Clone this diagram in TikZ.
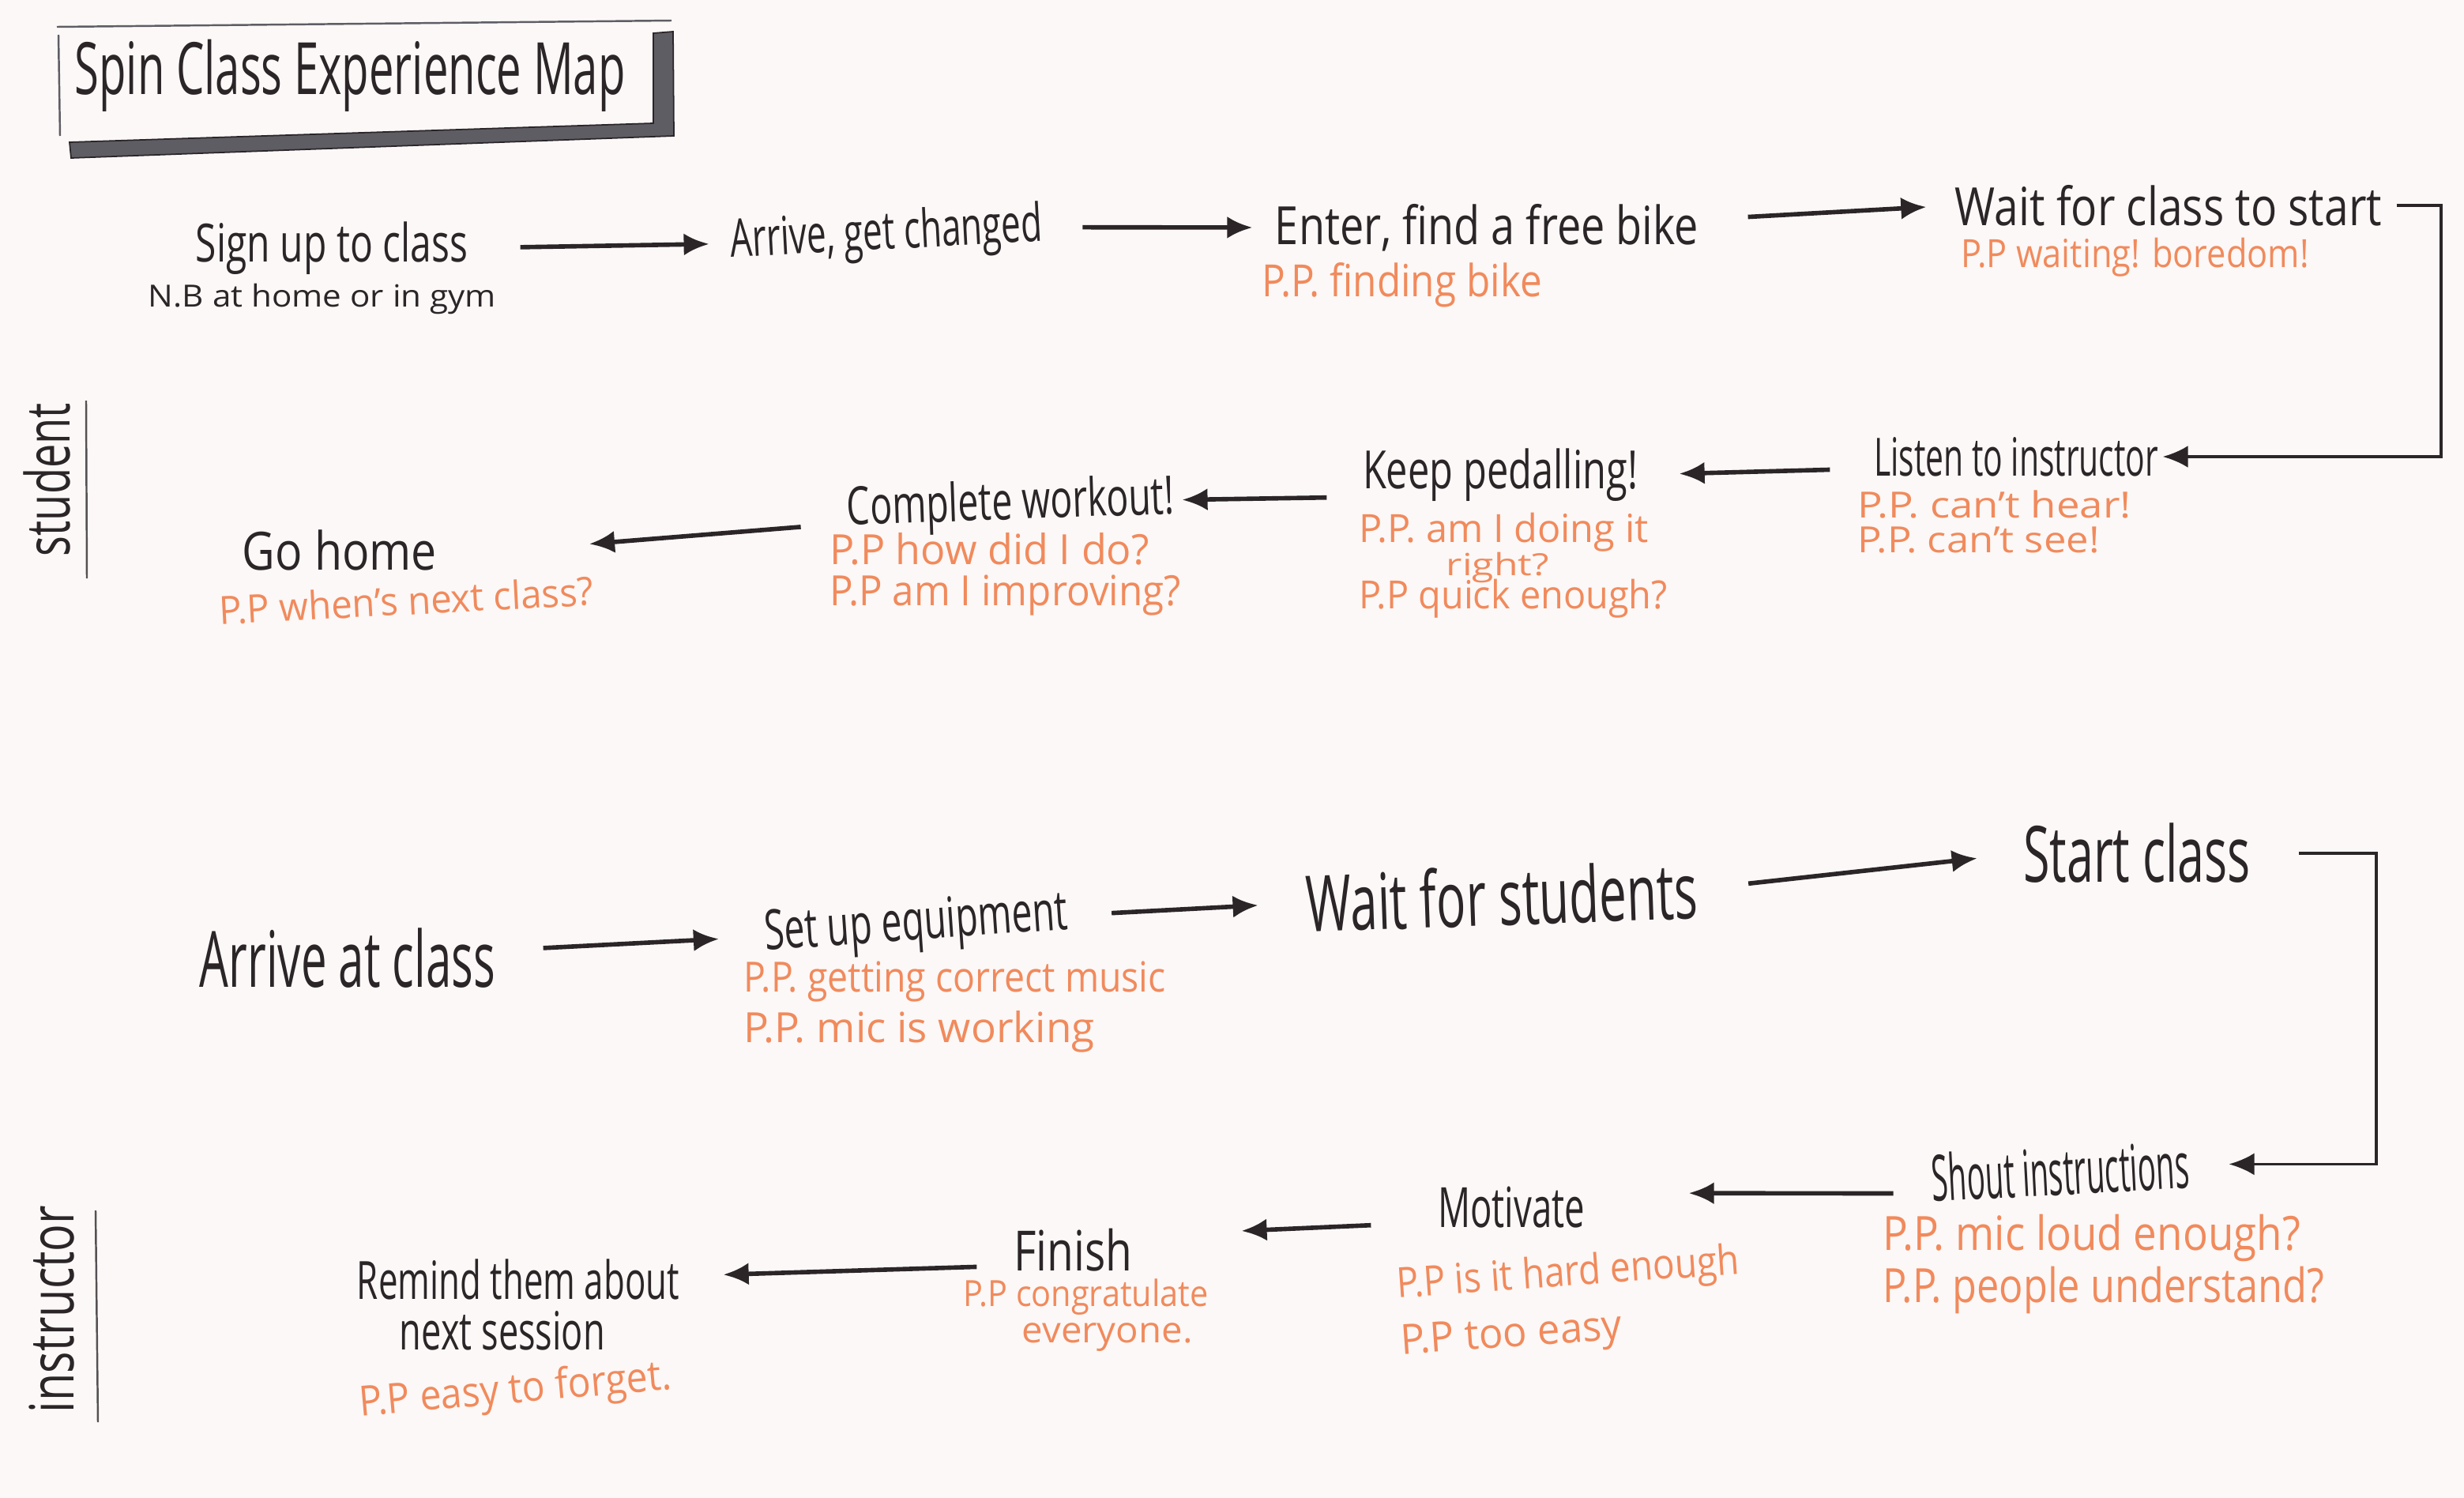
\documentclass[tikz,border=0pt]{standalone}
\usepackage{fontspec}
\setmainfont{Open Sans}
\usepackage{graphicx}
\usetikzlibrary{arrows.meta,calc}
\definecolor{ink}{HTML}{2B2528}
\definecolor{pp}{HTML}{F18A5C}
\definecolor{paper}{HTML}{FBF8F7}
\definecolor{shade}{HTML}{5F5D64}
\newcommand{\hw}[2]{\resizebox{#1cm}{\height}{#2}}
\AtBeginDocument{\lineskiplimit=-50pt\lineskip=0pt}
\begin{document}
\begin{tikzpicture}[
  lbl/.style={inner sep=0pt, text=ink, font=\fontsize{19}{21}\selectfont},
  biglbl/.style={lbl, font=\fontsize{28}{30}\selectfont},
  ppl/.style={inner sep=0pt, text=pp, font=\fontsize{15}{15}\selectfont, align=left, anchor=north west},
  arr/.style={draw=ink, line width=1.6pt, -{Latex[length=0.32cm,width=0.28cm]}},
  elbow/.style={arr, line width=1.1pt},
  rule/.style={draw=ink!80, line width=0.7pt},
]
\fill[paper] (0,0) rectangle (31.19,-18.96);
\useasboundingbox (0,0) rectangle (31.19,-18.96);

% title frame
\filldraw[fill=shade, draw=ink, line width=0.5pt] (8.27,-0.42) -- (8.52,-0.40) -- (8.53,-1.72) -- (0.90,-2.00) -- (0.88,-1.80) -- (8.27,-1.56) -- cycle;
\draw[rule, draw=shade] (0.72,-0.34) -- (8.50,-0.26);
\draw[rule, draw=shade] (0.74,-0.44) -- (0.76,-1.72);
\node[lbl, font=\fontsize{26}{28}\selectfont] (title) at (4.43,-0.96) {\hw{6.97}{Spin Class Experience Map}};

% ---------------- student ----------------
\node[lbl, rotate=90, font=\fontsize{22}{24}\selectfont] (student) at (0.60,-6.07) {\hw{1.94}{student}};
\draw[rule] (1.09,-5.07) -- (1.10,-7.32);

\node[lbl] (sign) at (4.20,-3.14) {\hw{3.44}{Sign up to class}};
\node[lbl, font=\fontsize{11}{12}\selectfont] (signnb) at (4.08,-3.78) {\hw{4.40}{N.B at home or in gym}};
\node[lbl, rotate=3] (arrive) at (11.22,-2.98) {\hw{3.96}{Arrive, get changed}};
\node[lbl] (enter) at (18.82,-2.88) {\hw{5.36}{Enter, find a free bike}};
\node[ppl, font=\fontsize{16}{16}\selectfont] (enterpp) at (15.97,-3.32) {\hw{3.54}{P.P. finding bike}};
\node[lbl] (wait) at (27.45,-2.60) {\hw{5.40}{Wait for class to start}};
\node[ppl, font=\fontsize{14}{14}\selectfont] (waitpp) at (24.82,-3.00) {\hw{4.40}{P.P waiting! boredom!}};

\node[lbl] (listen) at (25.52,-5.78) {\hw{3.60}{Listen to instructor}};
\node[ppl, font=\fontsize{13}{12.5}\selectfont] (listenpp) at (23.51,-6.20) {\hw{3.46}{P.P. can't hear!}\\\hw{3.06}{P.P. can't see!}};
\node[lbl] (keep) at (18.99,-6.01) {\hw{3.48}{Keep pedalling!}};
\node[ppl, font=\fontsize{14}{11.5}\selectfont] (keeppp) at (17.20,-6.48) {\hw{3.66}{P.P. am I doing it}\\[0.02cm]\hspace*{1.1cm}{\fontsize{11}{11}\selectfont\hw{1.30}{right?}}\\[0.02cm]\hw{3.90}{P.P quick enough?}};
\node[lbl, rotate=2] (complete) at (12.79,-6.40) {\hw{4.14}{Complete workout!}};
\node[ppl, font=\fontsize{15}{14.8}\selectfont] (completepp) at (10.50,-6.74) {\hw{4.04}{P.P how did I do?}\\\hw{4.44}{P.P am I improving?}};
\node[lbl] (gohome) at (4.30,-6.96) {\hw{2.46}{Go home}};
\node[ppl, font=\fontsize{14}{14}\selectfont, rotate=3, anchor=south west] (gohomepp) at (2.78,-7.92) {\hw{4.74}{P.P when's next class?}};

\draw[arr, shorten <=0.66cm, shorten >=0.26cm] (sign.east) -- (arrive.west);
\draw[arr, shorten <=0.50cm, shorten >=0.28cm] (arrive.east) -- (enter.west);
\draw[arr, shorten <=0.62cm, shorten >=0.36cm] ([yshift=0.1cm]enter.east) -- (wait.west);
\draw[elbow, shorten >=0.05cm] ([xshift=0.18cm]wait.east) -- ++(0.56,0) |- (listen.east);
\draw[arr, shorten <=0.55cm, shorten >=0.52cm] ([yshift=-0.15cm]listen.west) -- (keep.east);
\draw[arr, shorten <=0.45cm, shorten >=0.10cm] ([yshift=-0.28cm]keep.west) -- (complete.east);
\draw[arr, shorten <=0.58cm, shorten >=1.93cm] ([yshift=-0.15cm]complete.west) -- ([yshift=-0.08cm]gohome.east);

% ---------------- instructor ----------------
\node[lbl, rotate=90, font=\fontsize{22}{24}\selectfont] (instr) at (0.66,-16.57) {\hw{2.62}{instructor}};
\draw[rule] (1.21,-15.32) -- (1.24,-18.00);

\node[biglbl] (arrclass) at (4.40,-12.13) {\hw{3.74}{Arrive at class}};
\node[lbl, font=\fontsize{20}{22}\selectfont, rotate=4] (setup) at (11.60,-11.72) {\hw{3.84}{Set up equipment}};
\node[ppl, font=\fontsize{15}{18.2}\selectfont] (setuppp) at (9.41,-12.16) {\hw{5.34}{P.P. getting correct music}\\\hw{4.44}{P.P. mic is working}};
\node[biglbl, rotate=2] (waitst) at (19.01,-11.34) {\hw{4.96}{Wait for students}};
\node[biglbl] (start) at (27.05,-10.80) {\hw{2.88}{Start class}};

\node[lbl, font=\fontsize{23}{25}\selectfont, rotate=3] (shout) at (26.08,-14.82) {\hw{3.26}{Shout instructions}};
\node[ppl, font=\fontsize{17}{18.8}\selectfont] (shoutpp) at (23.83,-15.36) {\hw{5.28}{P.P. mic loud enough?}\\\hw{5.58}{P.P. people understand?}};
\node[lbl, font=\fontsize{20}{22}\selectfont] (motivate) at (19.13,-15.28) {\hw{1.86}{Motivate}};
\node[ppl, font=\fontsize{15}{20.5}\selectfont, rotate=4] (motivatepp) at (17.66,-16.02) {\hw{4.34}{P.P is it hard enough}\\\hw{2.80}{P.P too easy}};
\node[lbl, font=\fontsize{20}{22}\selectfont] (finish) at (13.58,-15.82) {\hw{1.50}{Finish}};
\node[ppl, font=\fontsize{13}{13}\selectfont] (finishpp) at (12.19,-16.18) {\hw{3.10}{P.P congratulate}\\\hspace*{0.74cm}\hw{2.16}{everyone.}};
\node[lbl] (remind) at (6.56,-16.19) {\hw{4.08}{Remind them about}};
\node[lbl] (remind2) at (6.36,-16.84) {\hw{2.60}{next session}};
\node[ppl, font=\fontsize{15}{15}\selectfont, rotate=5, anchor=south west] (remindpp) at (4.57,-18.06) {\hw{3.96}{P.P easy to forget.}};

\draw[arr, shorten <=0.60cm, shorten >=0.58cm] ([yshift=0.1cm]arrclass.east) -- (setup.west);
\draw[arr, shorten <=0.55cm, shorten >=0.60cm] (setup.east) -- (waitst.west);
\draw[arr, shorten <=0.64cm, shorten >=0.58cm] (waitst.east) -- (start.west);
\draw[elbow, shorten >=0.50cm] ([xshift=0.60cm]start.east) -- ++(0.98,0) |- (shout.east);
\draw[arr, shorten <=0.48cm, shorten >=1.31cm] ([yshift=-0.2cm]shout.west) -- ([yshift=0.18cm]motivate.east);
\draw[arr, shorten <=0.84cm, shorten >=1.38cm] ([yshift=-0.19cm]motivate.west) -- ([yshift=0.18cm]finish.east);
\draw[arr, shorten <=0.46cm, shorten >=0.55cm] ([yshift=-0.2cm]finish.west) -- ([yshift=0.04cm]remind.east);
\end{tikzpicture}
\end{document}
